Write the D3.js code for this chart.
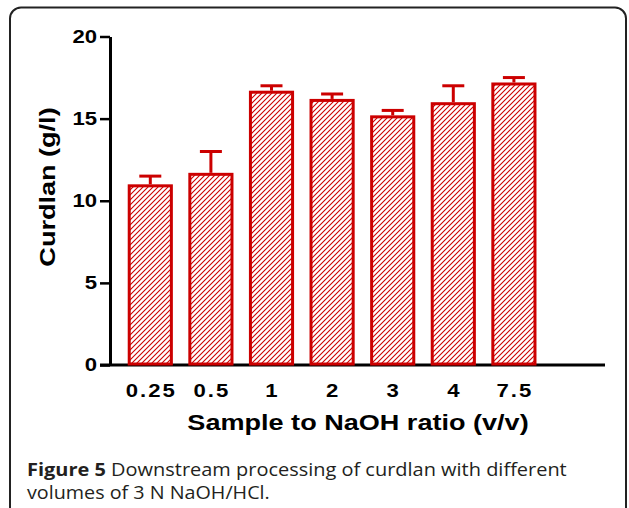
<!DOCTYPE html>
<html>
<head>
<meta charset="utf-8">
<script src="https://cdn.jsdelivr.net/npm/d3@7/dist/d3.min.js"></script>
<style>
  html, body { margin: 0; padding: 0; background: #fff; }
  svg { display: block; }
</style>
</head>
<body>
<svg id="chart" width="629" height="508"></svg>
<script>
// ---- data ----
const categories = ["0.25", "0.5", "1", "2", "3", "4", "7.5"];
const curdlan = [11.0, 11.7, 16.7, 16.2, 15.2, 16.0, 17.2];
const errorUp = [0.5, 1.3, 0.3, 0.3, 0.3, 1.0, 0.3];
const yTicks = [0, 5, 10, 15, 20];
const yTitle = "Curdlan (g/l)";
const xTitle = "Sample to NaOH ratio (v/v)";
const captionBold = "Figure 5";
const captionLine1 = " Downstream processing of curdlan with different";
const captionLine2 = "volumes of 3 N NaOH/HCl.";

const RED = "#cc0000";
const FONT = "'Liberation Sans', Arial, Helvetica, sans-serif";
const CAPFONT = "'Open Sans', 'Noto Sans', sans-serif";
const K = 1.23; // horizontal stretch of the chart lettering

const svg = d3.select("#chart");

// frame
svg.append("rect")
  .attr("x", 10).attr("y", 7.5)
  .attr("width", 616).attr("height", 540)
  .attr("rx", 11).attr("ry", 11)
  .attr("fill", "none").attr("stroke", "#222").attr("stroke-width", 2);

// hatch pattern
const defs = svg.append("defs");
const pat = defs.append("pattern")
  .attr("id", "hatch")
  .attr("patternUnits", "userSpaceOnUse")
  .attr("width", 5).attr("height", 5);
pat.append("rect").attr("width", 5).attr("height", 5).attr("fill", "#fff");
pat.append("path")
  .attr("d", "M-1,1 L1,-1 M0,5 L5,0 M4,6 L6,4")
  .attr("stroke", RED).attr("stroke-width", 1.1);

// scales
const y = d3.scaleLinear().domain([0, 20]).range([365, 36.5]);
const x = d3.scaleBand().domain(categories)
  .range([120, 544.2]).paddingInner(0.255).paddingOuter(0.1275);

// y axis
const yAxis = svg.append("g")
  .attr("transform", "translate(110,0)")
  .call(d3.axisLeft(y).tickValues(yTicks).tickSize(10).tickSizeOuter(0).tickPadding(3));
yAxis.select(".domain").attr("stroke", "#000").attr("stroke-width", 3);
yAxis.selectAll(".tick line").attr("stroke", "#000").attr("stroke-width", 2.5);
yAxis.selectAll(".tick text")
  .attr("font-family", FONT).attr("font-weight", "bold")
  .attr("font-size", 18).attr("fill", "#000")
  .attr("x", -13 / K)
  .attr("transform", `scale(${K},1)`);

// x axis
const xAxis = svg.append("g")
  .attr("transform", "translate(0,365)")
  .call(d3.axisBottom(x).tickSize(0).tickPadding(19));
xAxis.select(".domain").remove();
xAxis.selectAll(".tick text")
  .attr("font-family", FONT).attr("font-weight", "bold")
  .attr("font-size", 18).attr("fill", "#000")
  .attr("letter-spacing", 2 / K)
  .attr("dx", 1 / K)
  .attr("transform", `scale(${K},1)`);
svg.append("line")
  .attr("x1", 100).attr("x2", 605)
  .attr("y1", 365).attr("y2", 365)
  .attr("stroke", "#000").attr("stroke-width", 3);

// bars
const sw = 3;
svg.append("g").selectAll("rect")
  .data(categories)
  .join("rect")
  .attr("x", d => x(d) + sw / 2)
  .attr("width", x.bandwidth() - sw)
  .attr("y", (d, i) => y(curdlan[i]) + sw / 2)
  .attr("height", (d, i) => y(0) - y(curdlan[i]) - sw / 2 - 1)
  .attr("fill", "url(#hatch)")
  .attr("stroke", RED).attr("stroke-width", sw);

// error bars
const eb = svg.append("g").attr("stroke", RED).attr("stroke-width", 3);
categories.forEach((c, i) => {
  const cx = x(c) + x.bandwidth() / 2;
  eb.append("line")
    .attr("x1", cx).attr("x2", cx)
    .attr("y1", y(curdlan[i])).attr("y2", y(curdlan[i] + errorUp[i]));
  eb.append("line")
    .attr("x1", cx - 11).attr("x2", cx + 11)
    .attr("y1", y(curdlan[i] + errorUp[i])).attr("y2", y(curdlan[i] + errorUp[i]));
});

// axis titles
svg.append("text")
  .attr("transform", `translate(358,430) scale(${K},1)`)
  .attr("text-anchor", "middle")
  .attr("font-family", FONT).attr("font-weight", "bold")
  .attr("font-size", 22)
  .text(xTitle);

svg.append("text")
  .attr("transform", `translate(55,187) rotate(-90) scale(${K},1)`)
  .attr("text-anchor", "middle")
  .attr("font-family", FONT).attr("font-weight", "bold")
  .attr("font-size", 22)
  .text(yTitle);

// caption (stretched to the reference line widths)
function fitLine(sel, x0, y0, target) {
  const w = sel.node().getComputedTextLength();
  sel.attr("transform", `translate(${x0},${y0}) scale(${target / w},1)`);
}
const cap1 = svg.append("text")
  .attr("font-family", CAPFONT)
  .attr("font-size", 18).attr("fill", "#231f20");
cap1.append("tspan").attr("font-weight", "bold").text(captionBold);
cap1.append("tspan").text(captionLine1);
fitLine(cap1, 27, 476, 540);

const cap2 = svg.append("text")
  .attr("font-family", CAPFONT)
  .attr("font-size", 18).attr("fill", "#231f20")
  .text(captionLine2);
fitLine(cap2, 27, 499, 243);
</script>
</body>
</html>
